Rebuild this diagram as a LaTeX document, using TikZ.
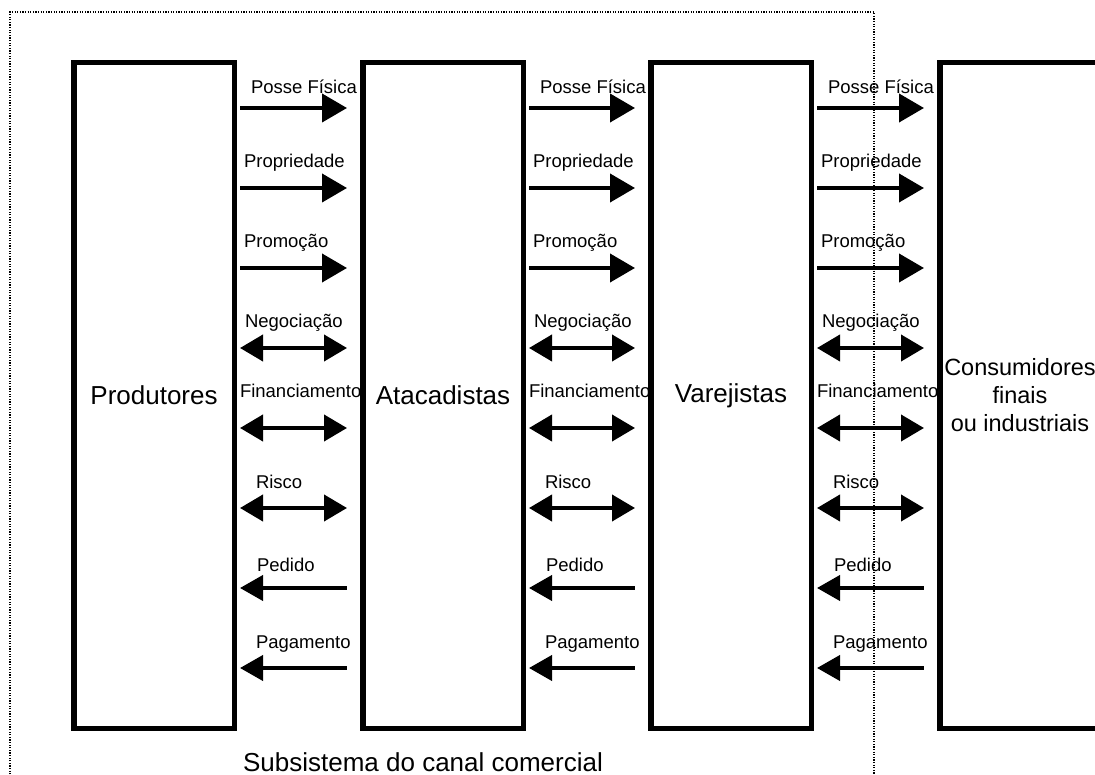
\documentclass[tikz,border=0pt]{standalone}
\usepackage{fontspec}
\setmainfont{Liberation Sans}
\usetikzlibrary{arrows.meta,positioning,calc}

\begin{document}
\begin{tikzpicture}[
  x=1pt, y=-1pt,
  box/.style={draw, line width=5.5pt, minimum width=160.5pt, minimum height=665.5pt,
    inner sep=0pt, align=center, font=\fontsize{26}{28}\selectfont},
  arr/.style={line width=4pt},
  fwd/.style={-{Triangle[length=25pt,width=28pt]}},
  both/.style={{Triangle[length=23pt,width=26pt]}-{Triangle[length=23pt,width=26pt]}},
  back/.style={{Triangle[length=23pt,width=25pt]}-},
  lbl/.style={font=\fontsize{18.5}{20}\selectfont, inner sep=0pt},
  frame/.style={line width=1.3pt, dash pattern=on 1.3pt off 1.3pt},
]
\useasboundingbox (0,0) rectangle (1095,775);
\draw[frame] (10,790) -- (10,12) -- (874,12) -- (874,790);
\node[box] (prod) at (154,395.5) {Produtores};
\node[box, right=123pt of prod] (atac) {Atacadistas};
\node[box, right=122pt of atac] (varj) {Varejistas};
\node[box, right=123pt of varj, font=\fontsize{23.5}{28}\selectfont] (cons) {Consumidores\\finais\\ou industriais};
\foreach \a/\b in {prod/atac,atac/varj,varj/cons}
  \foreach \txt/\tp/\dx/\dy [count=\i from 0] in {Posse Física/fwd/9/14, Propriedade/fwd/2/20,
      Promoção/fwd/2/20, Negociação/both/3/20, Financiamento/both/-2/30, Risco/both/14/20,
      Pedido/back/15/17, Pagamento/back/14/20}
    \draw[arr,\tp] ([shift={(3pt,{-48pt-80pt*\i})}]\a.north east) --
      node[lbl, pos=0, anchor=base west, xshift=\dx pt, yshift=\dy pt] {\txt}
      ([shift={(-13pt,{-48pt-80pt*\i})}]\b.north west);
\node[font=\fontsize{26}{28}\selectfont, inner sep=0pt, anchor=base] (sub) at (423,771) {Subsistema do canal comercial};
\end{tikzpicture}
\end{document}
